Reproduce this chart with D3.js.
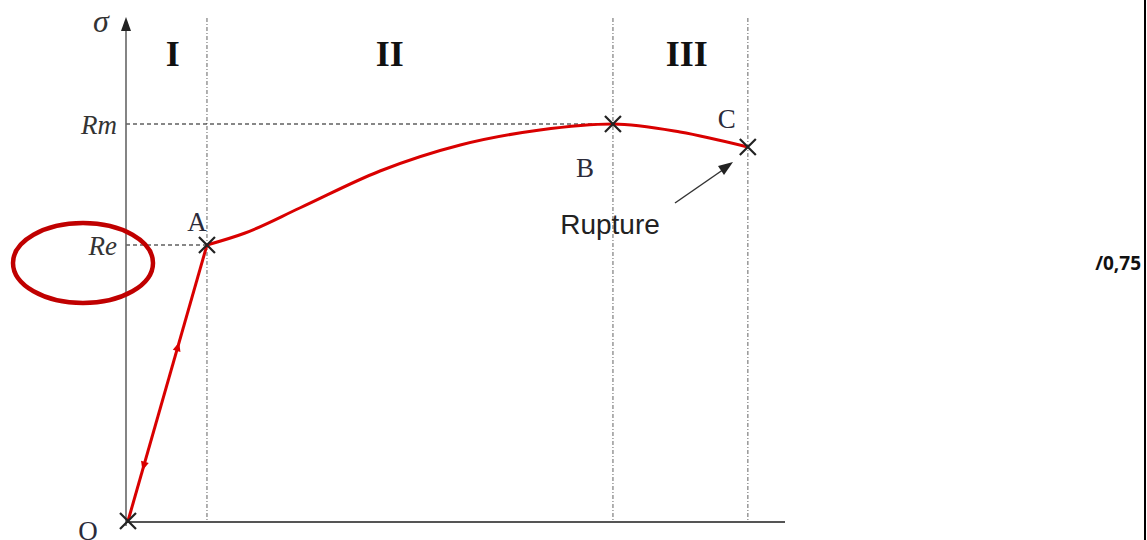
<!DOCTYPE html>
<html>
<head>
<meta charset="utf-8">
<script src="https://cdn.jsdelivr.net/npm/d3@7"></script>
<style>
  html, body { margin: 0; padding: 0; background: #fff; }
  svg { display: block; }
</style>
</head>
<body>
<div id="chart"></div>
<script>
// strain (x) and stress (y) in arbitrary units 0-100
const elasticPart = [[0, 0], [12.0, 55.2]];
const plasticPart = [[12.0, 55.2], [17.8, 57.6], [26.1, 62.6], [38.3, 70.0], [50.5, 75.2], [62.6, 78.2], [73.7, 79.4], [83.9, 77.8], [94.2, 74.8]];
const keyPoints = [
  { name: 'O', x: 0, y: 0 },
  { name: 'A', x: 12.0, y: 55.2 },
  { name: 'B', x: 73.7, y: 79.4 },
  { name: 'C', x: 94.2, y: 74.8 },
];
const stressLevels = [{ label: 'Re', y: 55.2, xEnd: 12.0 }, { label: 'Rm', y: 79.4, xEnd: 73.7 }];
const zoneBounds = [12.0, 73.7, 94.2];
const zones = [{ label: 'I', x: 6.8 }, { label: 'II', x: 39.8 }, { label: 'III', x: 84.9 }];
const loadArrows = [{ t: 0.63, dir: 1 }, { t: 0.2, dir: -1 }];

const width = 1147, height = 540;
const x = d3.scaleLinear().domain([0, 100]).range([128, 786]);
const y = d3.scaleLinear().domain([0, 100]).range([521, 21]);

const svg = d3.select('#chart').append('svg').attr('width', width).attr('height', height);
const serif = '"Liberation Serif", "DejaVu Serif", serif';

// zone separators
svg.append('g').selectAll('line').data(zoneBounds).join('line')
  .attr('x1', (d) => x(d)).attr('x2', (d) => x(d))
  .attr('y1', 18).attr('y2', y(0))
  .attr('stroke', '#888').attr('stroke-width', 1.3).attr('stroke-dasharray', '4,2,1,2');

// Re / Rm dashed guides
svg.append('g').selectAll('line').data(stressLevels).join('line')
  .attr('x1', x(0) - 2).attr('x2', (d) => x(d.xEnd))
  .attr('y1', (d) => y(d.y)).attr('y2', (d) => y(d.y))
  .attr('stroke', '#111').attr('stroke-width', 1.2).attr('stroke-dasharray', '4,3');

svg.append('g').selectAll('text').data(stressLevels).join('text')
  .attr('x', 117).attr('y', (d) => y(d.y) + 10)
  .attr('text-anchor', 'end')
  .attr('font-family', serif).attr('font-style', 'italic').attr('font-size', 27)
  .attr('fill', '#333').text((d) => d.label);

// axes
svg.append('line').attr('x1', x(0) - 2).attr('x2', x(0) - 2).attr('y1', 526).attr('y2', 26)
  .attr('stroke', '#666').attr('stroke-width', 1.6);
svg.append('path').attr('d', `M${x(0) - 2},17 L${x(0) - 7},31 L${x(0) + 3},31 Z`).attr('fill', '#222');
svg.append('line').attr('x1', x(0) - 2).attr('x2', 785).attr('y1', 522).attr('y2', 522)
  .attr('stroke', '#555').attr('stroke-width', 2.2);

svg.append('text').attr('x', 101).attr('y', 32)
  .attr('font-family', serif).attr('font-style', 'italic').attr('font-size', 32)
  .attr('fill', '#333').attr('text-anchor', 'middle').text('σ');

svg.append('g').selectAll('text').data(zones).join('text')
  .attr('x', (d) => x(d.x)).attr('y', 66)
  .attr('text-anchor', 'middle')
  .attr('font-family', serif).attr('font-weight', 'bold').attr('font-size', 36)
  .attr('fill', '#111').text((d) => d.label);

// curve
svg.append('path').datum(elasticPart)
  .attr('d', d3.line().x((d) => x(d[0])).y((d) => y(d[1])))
  .attr('fill', 'none').attr('stroke', '#d90000').attr('stroke-width', 3);
svg.append('path').datum(plasticPart)
  .attr('d', d3.line().x((d) => x(d[0])).y((d) => y(d[1])).curve(d3.curveMonotoneX))
  .attr('fill', 'none').attr('stroke', '#d90000').attr('stroke-width', 3);

// small loading/unloading arrowheads on the elastic line
const ex0 = x(elasticPart[0][0]), ey0 = y(elasticPart[0][1]);
const ex1 = x(elasticPart[1][0]), ey1 = y(elasticPart[1][1]);
const ang = Math.atan2(ey1 - ey0, ex1 - ex0) * 180 / Math.PI;
svg.append('g').selectAll('path').data(loadArrows).join('path')
  .attr('d', 'M5,0 L-4,-4 L-4,4 Z')
  .attr('fill', '#d90000')
  .attr('transform', (d) => `translate(${ex0 + (ex1 - ex0) * d.t},${ey0 + (ey1 - ey0) * d.t}) rotate(${d.dir > 0 ? ang : ang + 180})`);

// X markers
const crosses = svg.append('g').selectAll('g').data(keyPoints).join('g')
  .attr('transform', (d) => `translate(${x(d.x)},${y(d.y)})`);
crosses.append('path').attr('d', 'M-8,-8 L8,8 M-8,8 L8,-8')
  .attr('stroke', '#222').attr('stroke-width', 2.2).attr('fill', 'none');

const labelPos = { O: [-40, 10], A: [-10, -23], B: [-28, 44], C: [-21, -28] };
svg.append('g').selectAll('text').data(keyPoints).join('text')
  .attr('x', (d) => x(d.x) + labelPos[d.name][0])
  .attr('y', (d) => y(d.y) + labelPos[d.name][1] + 9)
  .attr('text-anchor', 'middle')
  .attr('font-family', serif).attr('font-size', 27)
  .attr('fill', '#2b2b3a').text((d) => d.name);

// Rupture annotation
svg.append('text').attr('x', 610).attr('y', 234).attr('text-anchor', 'middle')
  .attr('font-family', '"Liberation Sans", Arial, sans-serif').attr('font-size', 28)
  .attr('fill', '#222').text('Rupture');
svg.append('line').attr('x1', 675).attr('y1', 203).attr('x2', 727).attr('y2', 167)
  .attr('stroke', '#333').attr('stroke-width', 1.5);
svg.append('path').attr('d', 'M733,162 L718,166 L724,175 Z').attr('fill', '#222');

// red highlight ellipse around Re
svg.append('ellipse').attr('cx', 83).attr('cy', 263).attr('rx', 70).attr('ry', 40)
  .attr('fill', 'none').attr('stroke', '#c00000').attr('stroke-width', 4.5);

// mark and frame edge
svg.append('text').attr('x', 1141).attr('y', 270).attr('text-anchor', 'end')
  .attr('font-family', '"Open Sans", "DejaVu Sans", sans-serif').attr('font-weight', 'bold')
  .attr('font-size', 19).attr('fill', '#111').text('/0,75');
svg.append('line').attr('x1', 1145).attr('x2', 1145).attr('y1', 0).attr('y2', height)
  .attr('stroke', '#000').attr('stroke-width', 2);
</script>
</body>
</html>
